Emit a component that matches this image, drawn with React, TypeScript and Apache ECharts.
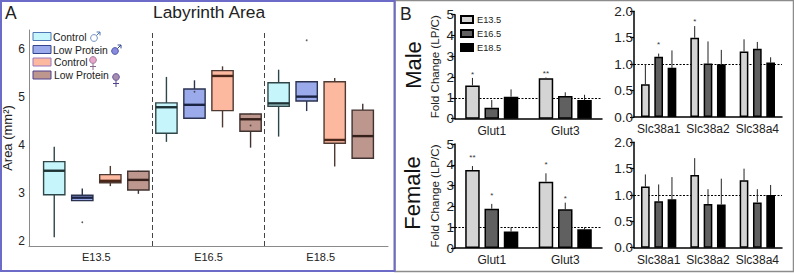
import React, { useEffect, useRef } from "react";
import * as echarts from "echarts";

const FONT = "'Liberation Sans', Arial, sans-serif";

// Panel A: rows are [group, low, q1, median, q3, high]
const stages = ["E13.5", "E16.5", "E18.5"];
const controlMale = [
  [1, 2.08, 2.96, 3.46, 3.65, 3.96],
  [2, 4.06, 4.24, 4.78, 4.87, 5.41],
  [3, 4.17, 4.8, 4.86, 5.29, 5.56],
];
const lowProteinMale = [
  [1, 2.84, 2.84, 2.9, 2.95, 3.09],
  [2, 4.55, 4.55, 4.83, 5.16, 5.34],
  [3, 4.7, 4.91, 5.0, 5.31, 5.31],
];
const controlFemale = [
  [1, 3.14, 3.21, 3.25, 3.38, 3.56],
  [2, 4.36, 4.71, 5.43, 5.54, 5.63],
  [3, 3.55, 4.03, 4.1, 5.31, 5.39],
];
const lowProteinFemale = [
  [1, 2.98, 3.06, 3.27, 3.45, 3.46],
  [2, 3.94, 4.28, 4.53, 4.64, 4.65],
  [3, 3.72, 3.72, 4.18, 4.72, 4.85],
];
const outliers = [
  [0.875, 2.39],
  [1.875, 5.1],
  [2.375, 4.4],
  [2.875, 6.17],
];
const boxSeries = [
  { name: "Control", data: controlMale, fill: "#c6f5fb", stroke: "#2f4649", median: "#1e3335" },
  { name: "Low Protein", data: lowProteinMale, fill: "#9aaaea", stroke: "#2b3350", median: "#1c2445" },
  { name: "Control", data: controlFemale, fill: "#fdb8a0", stroke: "#4d3a32", median: "#4a2618" },
  { name: "Low Protein", data: lowProteinFemale, fill: "#bd978e", stroke: "#40322f", median: "#35201c" },
];
const boxTicks = [2, 3, 4, 5, 6];

// Panel B
const barStages = ["E13.5", "E16.5", "E18.5"];
const barColors = ["#d4d4d4", "#606060", "#000000"];
const glutGenes = ["Glut1", "Glut3"];
const slcGenes = ["Slc38a1", "Slc38a2", "Slc38a4"];

const maleGlut = [[1.6, 1.95], [0.53, 1.09], [1.06, 0.9]];
const maleGlutErr = [[1.96, 1.98], [0.9, 1.27], [1.41, 1.15]];
// significance marks: [stage index, gene index, text, height]
const maleGlutSig = [[0, 0, "*", 2.21], [0, 1, "**", 2.29]];

const femaleGlut = [[3.75, 3.19], [1.89, 1.86], [0.79, 0.9]];
const femaleGlutErr = [[3.94, 3.59], [2.12, 2.18], [1.0, 1.0]];
const femaleGlutSig = [[0, 0, "**", 4.47], [0, 1, "*", 4.09], [1, 0, "*", 2.63], [1, 1, "*", 2.47]];

const maleSlc = [[0.62, 1.5, 1.24], [1.14, 1.01, 1.29], [0.93, 1.0, 1.03]];
const maleSlcErr = [[1.0, 1.72, 1.47], [1.2, 1.43, 1.42], [1.26, 1.27, 1.13]];
const maleSlcSig = [[0, 1, "*", 1.85], [1, 0, "*", 1.41]];

const femaleSlc = [[1.16, 1.38, 1.28], [0.88, 0.83, 0.86], [0.92, 0.82, 1.0]];
const femaleSlcErr = [[1.39, 1.7, 1.5], [1.2, 1.11, 1.11], [1.34, 1.31, 1.19]];
const femaleSlcSig: any[] = [];

function genderMark(cx: number, cy: number, fill: string, stroke: string, male: boolean) {
  const line = (x1: number, y1: number, x2: number, y2: number) => ({
    type: "line",
    shape: { x1, y1, x2, y2 },
    style: { stroke, lineWidth: 1 },
    silent: true,
  });
  const r = 3.4;
  const marks = male
    ? [
        line(cx + 2.4, cy - 2.4, cx + 6, cy - 6),
        line(cx + 2.6, cy - 6, cx + 6, cy - 6),
        line(cx + 6, cy - 6, cx + 6, cy - 2.6),
      ]
    : [line(cx, cy + r, cx, cy + 10), line(cx - 3, cy + 6.5, cx + 3, cy + 6.5)];
  return [
    ...marks,
    { type: "circle", shape: { cx, cy, r }, style: { fill, stroke, lineWidth: 0.8 }, silent: true },
  ];
}

function App() {
  const ref = useRef<HTMLDivElement>(null);
  useEffect(() => {
    if (!ref.current) return;
    const chart = echarts.init(ref.current, undefined, { renderer: "svg" });

    const grids = [
      { left: 29, top: 30, width: 359, height: 216 },
      { left: 455, top: 14.7, width: 147, height: 104 },
      { left: 455, top: 144, width: 147, height: 104 },
      { left: 634, top: 11.3, width: 148, height: 105.7 },
      { left: 634, top: 142.3, width: 148, height: 105.4 },
    ];

    const barPanels = [
      { grid: 1, cats: glutGenes, vals: maleGlut, errs: maleGlutErr, sig: maleGlutSig, max: 5, step: 1, bw: 14.5, gap: "33%", sp: 19.3, named: true },
      { grid: 2, cats: glutGenes, vals: femaleGlut, errs: femaleGlutErr, sig: femaleGlutSig, max: 5, step: 1, bw: 14.5, gap: "33%", sp: 19.3, named: true },
      { grid: 3, cats: slcGenes, vals: maleSlc, errs: maleSlcErr, sig: maleSlcSig, max: 2, step: 0.5, bw: 8.7, gap: "53%", sp: 13.3, named: false },
      { grid: 4, cats: slcGenes, vals: femaleSlc, errs: femaleSlcErr, sig: femaleSlcSig, max: 2, step: 0.5, bw: 8.7, gap: "53%", sp: 13.3, named: false },
    ];

    const xAxes: any[] = [
      {
        type: "value",
        gridIndex: 0,
        min: 0.4,
        max: 3.6,
        splitLine: { show: false },
        axisLine: { lineStyle: { color: "#8a8a8a", width: 1 } },
        axisTick: { show: false },
        axisLabel: {
          customValues: [1, 2, 3],
          formatter: (v: number) => stages[Math.round(v) - 1] ?? "",
          color: "#222",
          fontSize: 11,
          fontFamily: FONT,
          margin: 5,
        },
      },
    ];
    const yAxes: any[] = [
      {
        type: "value",
        gridIndex: 0,
        min: 1.896,
        max: 6.385,
        name: "Area (mm²)",
        nameLocation: "middle",
        nameGap: 13,
        nameTextStyle: { fontSize: 13, color: "#222", fontFamily: FONT },
        splitLine: { show: false },
        axisLine: { show: true, lineStyle: { color: "#8a8a8a", width: 1 } },
        axisTick: { show: false },
        axisLabel: {
          customValues: boxTicks,
          color: "#222",
          fontSize: 12,
          fontFamily: FONT,
          margin: 4,
        },
      },
    ];

    const series: any[] = [];

    boxSeries.forEach((b, si) => {
      const offset = (si - 1.5) * 0.25;
      series.push({
        type: "custom",
        name: b.name + si,
        xAxisIndex: 0,
        yAxisIndex: 0,
        encode: { x: 0, y: [1, 2, 3, 4, 5] },
        data: b.data,
        z: 3,
        renderItem: (_p: any, api: any) => {
          const g = api.value(0) + offset;
          const half = 0.095;
          const pt = (x: number, y: number) => api.coord([x, y]);
          const [xl, yq3] = pt(g - half, api.value(4));
          const [xr, yq1] = pt(g + half, api.value(2));
          const [xc, yHigh] = pt(g, api.value(5));
          const [, yLow] = pt(g, api.value(1));
          const [, yMed] = pt(g, api.value(3));
          const lw = { stroke: b.stroke, lineWidth: 1.4 };
          return {
            type: "group",
            children: [
              { type: "line", shape: { x1: xc, y1: yHigh, x2: xc, y2: yLow }, style: lw },
              { type: "rect", shape: { x: xl, y: yq3, width: xr - xl, height: yq1 - yq3 }, style: { fill: b.fill, ...lw } },
              { type: "line", shape: { x1: xl, y1: yMed, x2: xr, y2: yMed }, style: { stroke: b.median, lineWidth: 2.4 } },
            ],
          };
        },
      });
    });

    series.push({
      type: "scatter",
      xAxisIndex: 0,
      yAxisIndex: 0,
      data: outliers,
      symbolSize: 1.8,
      itemStyle: { color: "#333" },
      z: 4,
      markLine: {
        silent: true,
        symbol: "none",
        label: { show: false },
        lineStyle: { color: "#444", type: [5, 3], width: 1 },
        data: [{ xAxis: 1.5 }, { xAxis: 2.5 }],
      },
    });

    barPanels.forEach((p) => {
      xAxes.push({
        type: "category",
        gridIndex: p.grid,
        data: p.cats,
        axisLine: { lineStyle: { color: "#000", width: 1.5 } },
        axisTick: { alignWithLabel: true, length: 4, lineStyle: { color: "#000", width: 1.2 } },
        axisLabel: { color: "#222", fontSize: 12, fontFamily: FONT, margin: 6, interval: 0 },
      });
      yAxes.push({
        type: "value",
        gridIndex: p.grid,
        min: 0,
        max: p.max,
        interval: p.step,
        name: p.named ? "Fold Change (LP/C)" : "",
        nameLocation: "middle",
        nameGap: 15,
        nameTextStyle: { fontSize: 11.6, color: "#222", fontFamily: FONT },
        splitLine: { show: false },
        axisLine: { show: true, lineStyle: { color: "#000", width: 1.5 } },
        axisTick: { show: true, length: 4, lineStyle: { color: "#000", width: 1.2 } },
        axisLabel: {
          color: "#222",
          fontSize: 13.5,
          fontFamily: FONT,
          margin: 1,
          formatter: (v: number) => (p.step < 1 ? v.toFixed(1) : String(v)),
        },
      });
      barStages.forEach((name, si) => {
        series.push({
          type: "bar",
          name,
          xAxisIndex: p.grid,
          yAxisIndex: p.grid,
          data: p.vals[si],
          barWidth: p.bw,
          barGap: p.gap,
          z: 3,
          itemStyle: { color: barColors[si], borderColor: "#000", borderWidth: 1.5 },
          ...(si === 0
            ? {
                markLine: {
                  silent: true,
                  z: 1,
                  symbol: "none",
                  label: { show: false },
                  lineStyle: { color: "#000", type: [2, 1.5], width: 1 },
                  data: [{ yAxis: 1 }],
                },
              }
            : {}),
        });
        series.push({
          type: "custom",
          xAxisIndex: p.grid,
          yAxisIndex: p.grid,
          z: 2,
          encode: { x: 0, y: 1 },
          data: p.errs[si].map((e, i) => [i, e, p.vals[si][i]]),
          renderItem: (params: any, api: any) => {
            const [x0, yTop] = api.coord([api.value(0), api.value(1)]);
            const [, yBar] = api.coord([api.value(0), api.value(2)]);
            const x = x0 + (si - 1) * p.sp;
            const mark = p.sig.find((m: any) => m[0] === si && m[1] === params.dataIndex);
            return {
              type: "group",
              children: [
                { type: "line", shape: { x1: x, y1: yBar, x2: x, y2: yTop }, style: { stroke: "#222", lineWidth: 1 } },
                ...(mark
                  ? [
                      {
                        type: "text",
                        style: {
                          x,
                          y: api.coord([api.value(0), mark[3]])[1] + 2,
                          text: mark[2],
                          fill: "#333",
                          font: `8px ${FONT}`,
                          textAlign: "center",
                          textVerticalAlign: "middle",
                        },
                      },
                    ]
                  : []),
              ],
            };
          },
        });
      });
    });

    const legendRows = [
      { label: "Control", fill: boxSeries[0].fill, stroke: "#4f77b5", y: 32.5, tx: 53 },
      { label: "Low Protein", fill: boxSeries[1].fill, stroke: "#33448f", y: 45.5, tx: 53 },
      { label: "Control", fill: boxSeries[2].fill, stroke: "#9a78c0", y: 58, tx: 54 },
      { label: "Low Protein", fill: boxSeries[3].fill, stroke: "#53408f", y: 71, tx: 54 },
    ];
    const legendGraphics: any[] = [];
    legendRows.forEach((r) => {
      legendGraphics.push(
        { type: "rect", shape: { x: 33, y: r.y, width: 18, height: 8 }, style: { fill: r.fill, stroke: r.stroke, lineWidth: 1 }, silent: true },
        { type: "text", x: r.tx, y: r.y + 4.5, style: { text: r.label, fill: "#222", font: `10.4px ${FONT}`, verticalAlign: "middle", textVerticalAlign: "middle" }, silent: true },
      );
    });

    const sideLabel = (text: string, x: number, y: number) => ({
      type: "text",
      x,
      y,
      rotation: Math.PI / 2,
      style: { text, fill: "#111", font: `22px ${FONT}`, align: "center", verticalAlign: "middle", textAlign: "center", textVerticalAlign: "middle" },
      silent: true,
    });

    const option: any = {
      animation: false,
      backgroundColor: "#ffffff",
      textStyle: { fontFamily: FONT },
      title: {
        text: "Labyrinth Area",
        left: 153,
        top: 3,
        padding: 0,
        textStyle: { fontSize: 17.4, fontWeight: "normal", color: "#222", fontFamily: FONT },
      },
      legend: {
        orient: "vertical",
        left: 460,
        top: 15,
        padding: 0,
        icon: "rect",
        itemWidth: 12,
        itemHeight: 7,
        itemGap: 5,
        data: barStages,
        textStyle: { fontSize: 9.3, color: "#222", fontFamily: FONT, padding: [0, 0, 0, -1] },
      },
      grid: grids.map((g) => ({ ...g, containLabel: false })),
      xAxis: xAxes,
      yAxis: yAxes,
      series,
      graphic: [
        { type: "rect", shape: { x: 395, y: 0.5, width: 398.5, height: 271 }, style: { fill: "none", stroke: "#8c8c8c", lineWidth: 1.5 }, silent: true },
        { type: "rect", shape: { x: 1, y: 1, width: 393.5, height: 270 }, style: { fill: "none", stroke: "#6c6cc8", lineWidth: 2 }, silent: true },
        { type: "text", x: 5, y: 4, style: { text: "A", fill: "#222", font: `17.5px ${FONT}` }, silent: true },
        { type: "text", x: 400, y: 5, style: { text: "B", fill: "#222", font: `17.5px ${FONT}` }, silent: true },
        sideLabel("Male", 413, 65),
        sideLabel("Female", 412, 193),
        ...legendGraphics,
        ...genderMark(94, 38, "#ffffff", "#4f77b5", true),
        ...genderMark(115, 51, "#8a8ae0", "#33448f", true),
        ...genderMark(93, 60, "#eaa6c8", "#8a6a8a", false),
        ...genderMark(116, 77, "#a58cb0", "#53408f", false),
      ],
    };
    chart.setOption(option);
    return () => chart.dispose();
  }, []);

  return (
    <div
      ref={ref}
      style={{ position: "fixed", left: 0, top: 0, width: 794, height: 273 }}
    />
  );
}

export default App;
